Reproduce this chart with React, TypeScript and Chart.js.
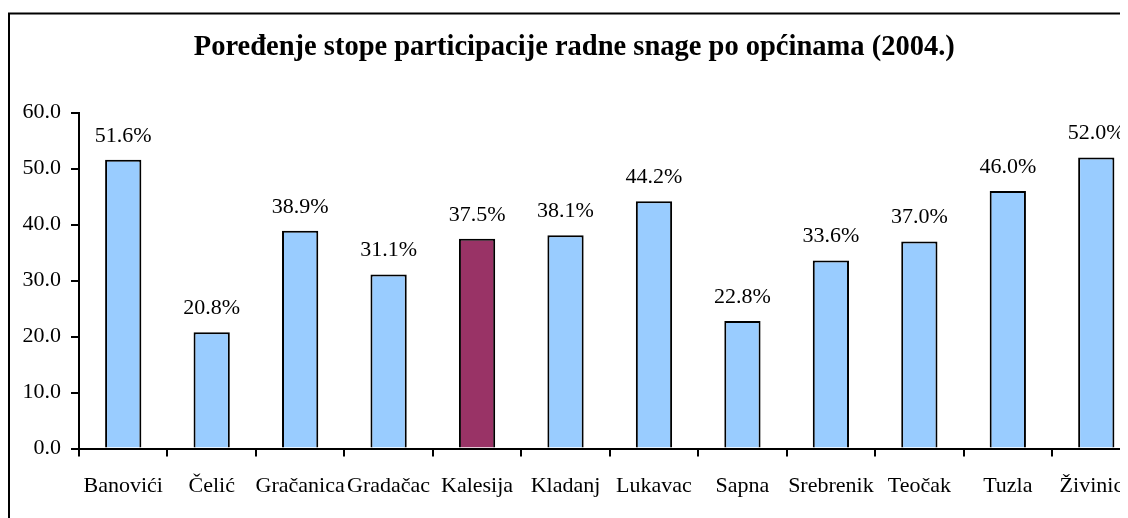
import React, { useEffect, useRef } from "react";
import { Chart, registerables } from "chart.js";

Chart.register(...registerables);

const categories = [
  "Banovići",
  "Čelić",
  "Gračanica",
  "Gradačac",
  "Kalesija",
  "Kladanj",
  "Lukavac",
  "Sapna",
  "Srebrenik",
  "Teočak",
  "Tuzla",
  "Živinice",
];
const values = [51.6, 20.8, 38.9, 31.1, 37.5, 38.1, 44.2, 22.8, 33.6, 37.0, 46.0, 52.0];
const highlightCategory = "Kalesija";
const titleText = "Poređenje stope participacije radne snage po općinama (2004.)";
const yMin = 0;
const yMax = 60;
const yStep = 10;

const BLUE = "#99CCFF";
const PLUM = "#993366";
const FONT = "'Liberation Serif', 'Times New Roman', serif";

const CW = 1180;
const CH = 510;

export default function App() {
  const ref = useRef<HTMLCanvasElement | null>(null);

  useEffect(() => {
    if (!ref.current) return;

    const framePlugin = {
      id: "frame",
      beforeDraw(chart: any) {
        const ctx = chart.ctx;
        ctx.save();
        ctx.fillStyle = "#ffffff";
        ctx.fillRect(0, 0, chart.width, chart.height);
        ctx.strokeStyle = "#000000";
        ctx.lineWidth = 2;
        ctx.strokeRect(1, 5.5, chart.width + 20, chart.height + 20);
        ctx.restore();
      },
    };

    const labelPlugin = {
      id: "valueLabels",
      afterDatasetsDraw(chart: any) {
        const ctx = chart.ctx;
        const meta = chart.getDatasetMeta(0);
        ctx.save();
        ctx.font = `22px ${FONT}`;
        ctx.fillStyle = "#000000";
        ctx.textAlign = "center";
        ctx.textBaseline = "alphabetic";
        meta.data.forEach((bar: any, i: number) => {
          ctx.fillText(values[i].toFixed(1) + "%", bar.x, bar.y - 18);
        });
        ctx.restore();
      },
    };

    const chart = new Chart(ref.current, {
      type: "bar",
      data: {
        labels: categories,
        datasets: [
          {
            data: values,
            backgroundColor: categories.map((c) => (c === highlightCategory ? PLUM : BLUE)),
            borderColor: "#000000",
            borderWidth: 2,
            barPercentage: 0.41,
            categoryPercentage: 1,
          },
        ],
      },
      options: {
        responsive: false,
        animation: false,
        devicePixelRatio: 1,
        layout: { padding: { left: 0, right: 47.5, top: 0, bottom: 3 } },
        plugins: {
          legend: { display: false },
          tooltip: { enabled: false },
          title: {
            display: true,
            text: titleText,
            color: "#000000",
            font: { family: FONT, size: 28.5, weight: "bold" },
            padding: { top: 23, bottom: 47.5 },
          },
        },
        scales: {
          x: {
            grid: {
              display: true,
              drawOnChartArea: false,
              drawTicks: true,
              tickLength: 8,
              color: "#000000",
              lineWidth: 2,
              offset: true,
            },
            border: { display: true, color: "#000000", width: 2 },
            ticks: {
              color: "#000000",
              font: { family: FONT, size: 22 },
              padding: 16,
              autoSkip: false,
              maxRotation: 0,
              minRotation: 0,
            },
          },
          y: {
            min: yMin,
            max: yMax,
            afterFit(scale: any) {
              scale.width = 71;
            },
            grid: {
              display: true,
              drawOnChartArea: false,
              drawTicks: true,
              tickLength: 8,
              color: "#000000",
              lineWidth: 2,
            },
            border: { display: true, color: "#000000", width: 2 },
            ticks: {
              stepSize: yStep,
              color: "#000000",
              font: { family: FONT, size: 22 },
              padding: 10,
              callback: (v: any) => Number(v).toFixed(1),
            },
          },
        },
      },
      plugins: [framePlugin, labelPlugin],
    } as any);

    return () => chart.destroy();
  }, []);

  return (
    <div style={{ width: 1120, height: CH, overflow: "hidden" }}>
      <div style={{ width: CW, height: CH }}>
        <canvas ref={ref} width={CW} height={CH} style={{ width: CW, height: CH, display: "block" }} />
      </div>
    </div>
  );
}
